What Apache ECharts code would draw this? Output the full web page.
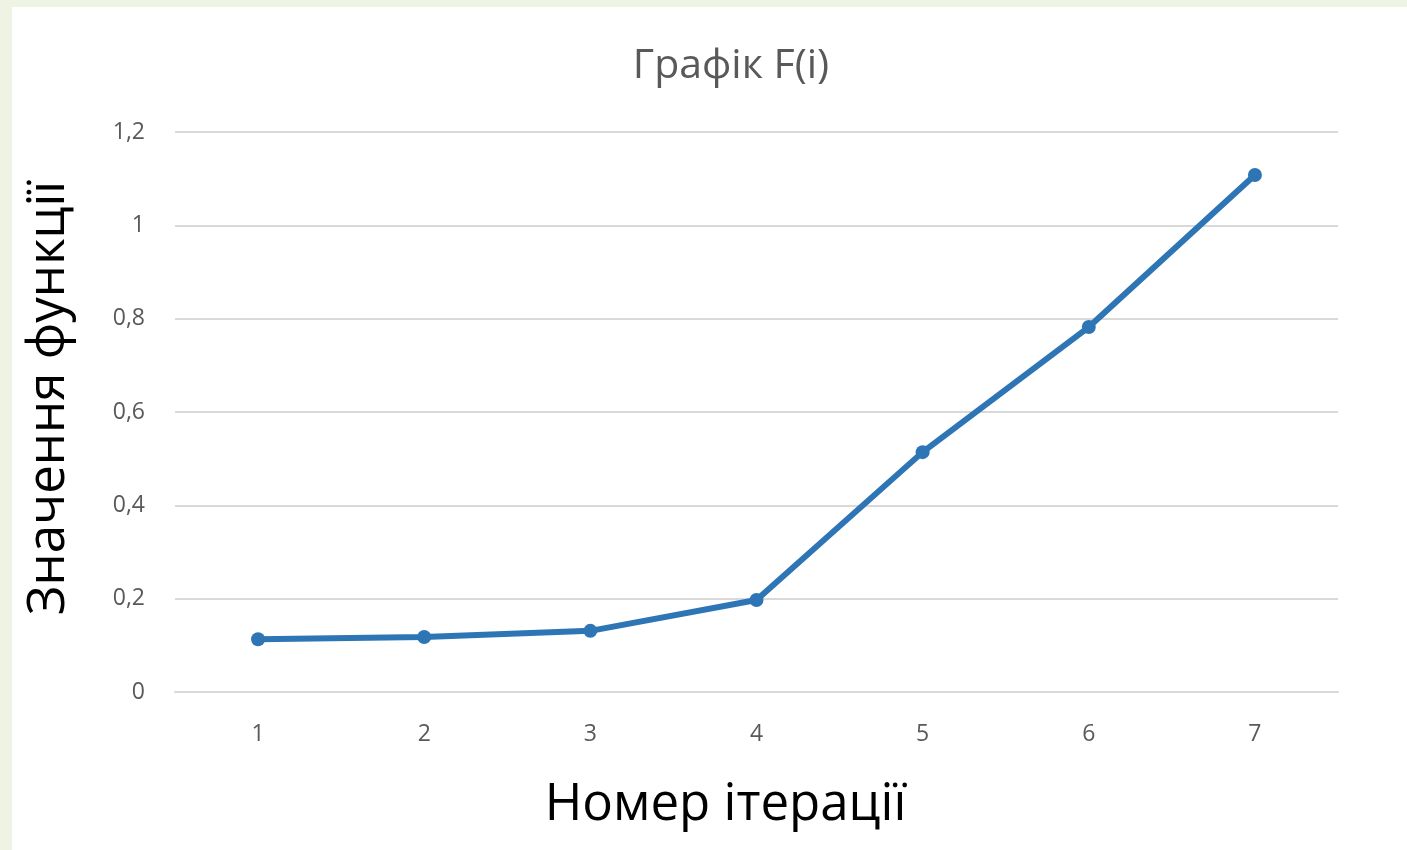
<!DOCTYPE html>
<html>
<head>
<meta charset="utf-8">
<script src="https://cdn.jsdelivr.net/npm/echarts@6/dist/echarts.min.js"></script>
<style>
  html, body { margin: 0; padding: 0; width: 1407px; height: 850px; background: #eff3e3; overflow: hidden; }
  #main { position: absolute; left: 12px; top: 7px; width: 1395px; height: 843px; background: #ffffff; }
</style>
</head>
<body>
<div id="main"></div>
<script>
var iterations = ['1', '2', '3', '4', '5', '6', '7'];
var values = [0.113, 0.118, 0.131, 0.197, 0.514, 0.782, 1.108];
var yTicks = { min: 0, max: 1.2, interval: 0.2 };

var chartDom = document.getElementById('main');
var myChart = echarts.init(chartDom);
var option;

const fontFamily = '"Open Sans", "Noto Sans", sans-serif';

option = {
  title: {
    text: 'Графік F(i)',
    left: 714,
    top: 34,
    textAlign: 'center',
    textStyle: {
      color: '#595959',
      fontSize: 41,
      fontWeight: 'normal',
      fontFamily: fontFamily
    }
  },
  grid: {
    left: 163,
    right: 69,
    top: 125,
    bottom: 158,
    containLabel: false,
    outerBoundsMode: 'none'
  },
  xAxis: {
    type: 'category',
    data: iterations,
    name: 'Номер ітерації',
    nameLocation: 'middle',
    nameGap: 88,
    nameTextStyle: {
      color: '#000000',
      fontSize: 51,
      fontFamily: fontFamily,
      padding: [0, 62, 0, 0]
    },
    axisLine: { lineStyle: { color: '#d9d9d9', width: 2 } },
    axisTick: { show: false },
    axisLabel: {
      color: '#595959',
      fontSize: 23,
      margin: 31,
      fontFamily: fontFamily
    }
  },
  yAxis: {
    type: 'value',
    min: yTicks.min,
    max: yTicks.max,
    interval: yTicks.interval,
    name: 'Значення функції',
    nameLocation: 'middle',
    nameGap: 100,
    nameTextStyle: {
      color: '#000000',
      fontSize: 51,
      fontFamily: fontFamily,
      padding: [0, 0, 0, 28]
    },
    axisLine: { show: false },
    axisTick: { show: false },
    splitLine: { lineStyle: { color: '#d9d9d9', width: 2 } },
    axisLabel: {
      color: '#595959',
      fontSize: 23,
      margin: 30,
      fontFamily: fontFamily,
      formatter: v => String(Math.round(v * 10) / 10).replace('.', ',')
    }
  },
  series: [
    {
      type: 'line',
      data: values,
      symbol: 'circle',
      symbolSize: 14,
      lineStyle: { color: '#2e75b6', width: 6 },
      itemStyle: { color: '#2e75b6' },
      animation: false
    }
  ]
};

option && myChart.setOption(option);

window.onresize = function() {
  myChart.resize();
};
</script>
</body>
</html>
